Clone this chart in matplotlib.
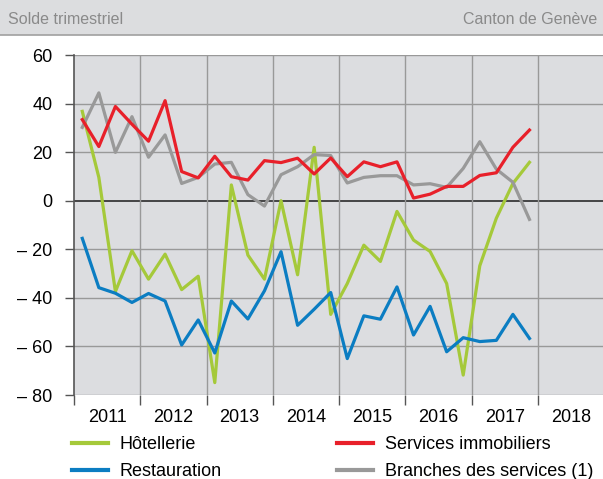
import numpy as np
import matplotlib.pyplot as plt
from matplotlib.lines import Line2D

plt.rcParams['font.family'] = ['Liberation Sans', 'DejaVu Sans']

# quarterly balances, 2011 Q1 .. 2017 Q4
hotellerie = [36.8, 9.6, -37.4, -20.6, -32.3, -22.0, -36.6, -31.1,
              -74.9, 6.5, -22.4, -32.3, 0.0, -30.5, 22.0, -46.8,
              -34.1, -18.3, -25.0, -4.4, -16.2, -20.9, -34.1, -71.8,
              -26.8, -7.2, 7.1, 15.8]
restauration = [-15.5, -35.8, -38.1, -41.9, -38.2, -41.3, -59.4, -49.1,
                -62.7, -41.3, -48.7, -37.1, -21.0, -51.3, -44.7, -37.8,
                -65.0, -47.4, -48.8, -35.5, -55.3, -43.5, -62.2, -56.4,
                -58.0, -57.5, -46.8, -56.7]
immobiliers = [33.4, 22.3, 38.8, 31.5, 24.5, 41.2, 12.0, 9.4,
               18.3, 9.9, 8.5, 16.5, 15.7, 17.5, 11.0, 17.6,
               9.9, 16.0, 14.0, 16.0, 1.1, 2.7, 5.9, 5.9,
               10.4, 11.5, 22.0, 29.1]
branches = [30.2, 44.4, 19.9, 34.6, 17.9, 27.1, 7.1, 9.6,
            15.1, 15.8, 2.5, -2.2, 10.7, 14.0, 19.0, 18.6,
            7.3, 9.6, 10.3, 10.3, 6.5, 7.0, 5.5, 13.3,
            24.3, 13.0, 7.6, -7.7]
years = list(range(2011, 2019))
yticks = [60, 40, 20, 0, -20, -40, -60, -80]

x = 2011 + (np.arange(len(hotellerie)) + 0.5) / 4

c_green = '#a5c93a'
c_blue = '#0b7dc2'
c_red = '#e8202a'
c_gray = '#999999'

W, H = 603, 479
fig = plt.figure(figsize=(W / 100, H / 100), dpi=100)

# header band
fig.patches.append(plt.Rectangle((0, 1 - 35 / H), 1, 35 / H, transform=fig.transFigure,
                                 facecolor='#dcdddf', edgecolor='none'))
fig.lines.append(Line2D([0, 1], [1 - 35 / H] * 2, transform=fig.transFigure,
                        color='#a0a0a0', lw=1.2))
fig.text(8 / W, 1 - 20 / H, 'Solde trimestriel', fontsize=11.5, color='#8a8a8a', va='center')
fig.text(597 / W, 1 - 20 / H, 'Canton de Genève', fontsize=11.5, color='#8a8a8a',
         va='center', ha='right')

ax = fig.add_axes([74 / W, 1 - 395 / H, 530 / W, 340 / H])
ax.set_facecolor('#dcdde0')
ax.set_xlim(2011, 2019)
ax.set_ylim(-80, 60)

for v in yticks:
    ax.axhline(v, color='#2b2b2b' if v == 0 else '#999999', lw=1.2 if v == 0 else 1.0, zorder=1)
for yr in years[1:]:
    ax.axvline(yr, color='#999999', lw=1.0, zorder=1)

lw = 2.3
ax.plot(x, hotellerie, color=c_green, lw=lw, zorder=3)
ax.plot(x, restauration, color=c_blue, lw=lw, zorder=3)
ax.plot(x, branches, color=c_gray, lw=lw, zorder=3)
ax.plot(x, immobiliers, color=c_red, lw=lw, zorder=3)

for s in ['top', 'right', 'bottom']:
    ax.spines[s].set_visible(False)
ax.spines['left'].set_color('#555555')
ax.spines['left'].set_linewidth(1.2)

ax.set_yticks(yticks)
ax.set_yticklabels([('– %d' % abs(v)) if v < 0 else str(v) for v in yticks], fontsize=13)
ax.tick_params(axis='y', length=6.5, width=1, color='#555555', pad=9)

ax.set_xticks(years)
ax.set_xticklabels([])
ax.set_xticks([yr + 0.5 for yr in years], minor=True)
ax.set_xticklabels([str(yr) for yr in years], minor=True, fontsize=13)
ax.tick_params(axis='x', which='major', length=7, width=1, color='#555555')
ax.tick_params(axis='x', which='minor', length=0, pad=10)

legend_kw = dict(loc='upper left', frameon=False, fontsize=13, handlelength=2.0,
                 handletextpad=0.65, labelspacing=0.55, borderpad=0, borderaxespad=0)
leg1 = fig.legend([Line2D([], [], color=c_green, lw=3), Line2D([], [], color=c_blue, lw=3)],
                  ['Hôtellerie', 'Restauration'],
                  bbox_to_anchor=(72 / W, 1 - 436 / H), **legend_kw)
leg2 = fig.legend([Line2D([], [], color=c_red, lw=3), Line2D([], [], color=c_gray, lw=3)],
                  ['Services immobiliers', 'Branches des services (1)'],
                  bbox_to_anchor=(337 / W, 1 - 436 / H), **legend_kw)

fig.savefig('out.png', dpi=100, facecolor='white')
